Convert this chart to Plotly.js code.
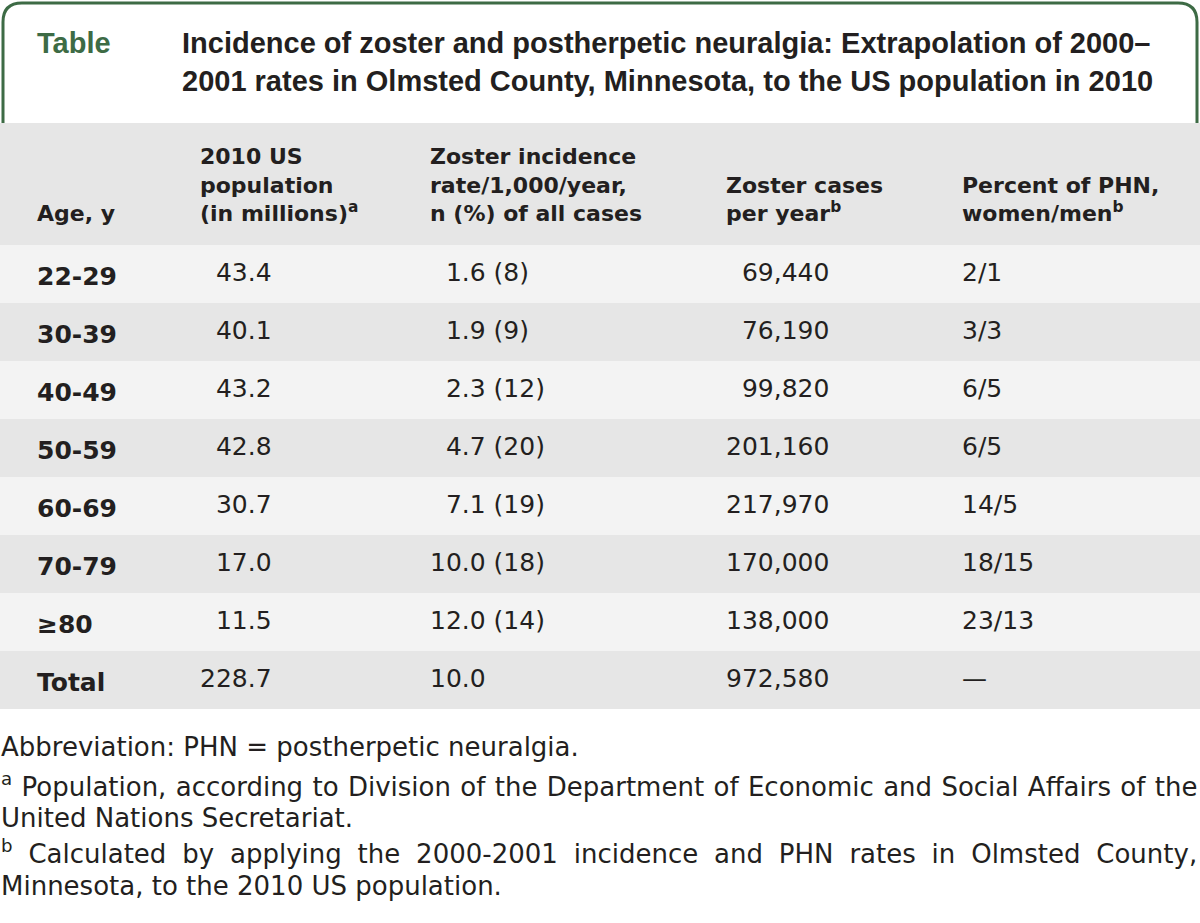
<!DOCTYPE html>
<html><head><meta charset="utf-8">
<script src="https://cdn.plot.ly/plotly-3.0.1.min.js"></script>
<style>html,body{margin:0;padding:0;background:#fff}</style>
</head><body>
<div id="chart" style="width:1200px;height:923px"></div>
<script>
// ---- data ----
const ageGroups = ['22-29','30-39','40-49','50-59','60-69','70-79','≥80'];
const population = [43.4, 40.1, 43.2, 42.8, 30.7, 17.0, 11.5];
const incidenceRate = [1.6, 1.9, 2.3, 4.7, 7.1, 10.0, 12.0];
const pctOfCases = [8, 9, 12, 20, 19, 18, 14];
const casesPerYear = [69440, 76190, 99820, 201160, 217970, 170000, 138000];
const phnWomenMen = ['2/1','3/3','6/5','6/5','14/5','18/15','23/13'];
const totalLabel = 'Total';
const totalPopulation = 228.7;
const totalRate = 10.0;
const totalCases = 972580;
const totalPhn = '—';
const columnHeaders = [
  'Age, y',
  '2010 US<br>population<br>(in millions)<sup>a</sup>',
  'Zoster incidence<br>rate/1,000/year,<br>n (%) of all cases',
  'Zoster cases<br>per year<sup>b</sup>',
  'Percent of PHN,<br>women/men<sup>b</sup>'
];
const tableLabel = 'Table';
const titleText = 'Incidence of zoster and postherpetic neuralgia: Extrapolation of 2000–<br>2001 rates in Olmsted County, Minnesota, to the US population in 2010';
const footnotes = [
  'Abbreviation: PHN = postherpetic neuralgia.',
  '<sup>a</sup> Population, according to Division of the Department of Economic and Social Affairs of the',
  'United Nations Secretariat.',
  '<sup>b</sup> Calculated by applying the 2000-2001 incidence and PHN rates in Olmsted County,',
  'Minnesota, to the 2010 US population.'
];

// ---- styles / layout ----
const W = 1200, H = 923;
const FS = '\u2007';
const FONT = '"DejaVu Sans", Verdana, sans-serif';
const TFONT = '"Liberation Sans", Arial, sans-serif';
const TXT = '#231f20';
const GREEN = '#3d6b45';
const LIGHT = '#f3f3f3', DARK = '#e6e6e6';
const CLEAR = 'rgba(0,0,0,0)';
const px = x => x / W;
const py = y => 1 - y / H;

const TABLE_TOP = 123, HEAD_H = 122, ROW_H = 58;
const HEAD_SHIFT = 13, CELL_SHIFT = 9;
const COLW = [29, 163, 230, 296, 236, 246];

const ageCol = ageGroups.map(a => '<b>' + a + '</b>').concat(['<b>' + totalLabel + '</b>']);
const popCol = population.concat([totalPopulation]).map(v => v.toFixed(1).padStart(5, FS));
const rateCol = incidenceRate.map((r, i) => r.toFixed(1).padStart(4, FS) + ' (' + pctOfCases[i] + ')')
  .concat([totalRate.toFixed(1)]);
const casesCol = casesPerYear.concat([totalCases]).map(v => v.toLocaleString('en-US').padStart(7, FS));
const phnCol = phnWomenMen.concat([totalPhn]);
const nRows = ageCol.length;
const rowColors = Array.from({length: nRows}, (_, i) => i % 2 === 0 ? LIGHT : DARK);
const blank = Array(nRows).fill('');

// background table: header + row fills
const fillTable = {
  type: 'table',
  domain: {x: [0, 1], y: [0, py(TABLE_TOP)]},
  columnwidth: COLW,
  header: {values: COLW.map(() => ''), height: HEAD_H, fill: {color: DARK}, line: {width: 0, color: DARK}},
  cells: {values: COLW.map(() => blank), height: ROW_H, fill: {color: COLW.map(() => rowColors)},
          line: {width: 0, color: LIGHT}, font: {size: 12}}
};

// text table, set slightly lower so text sits centred in the rows
const textTable = {
  type: 'table',
  domain: {x: [0, 1], y: [0, py(TABLE_TOP + HEAD_SHIFT)]},
  columnwidth: COLW,
  header: {
    values: [''].concat(columnHeaders.map(h => {
      const lines = h.split('<br>');
      return '\u00a0<br>'.repeat(3 - lines.length) + lines.map(l => '<b>' + l + '</b>').join('<br>');
    })),
    align: 'left',
    height: HEAD_H - HEAD_SHIFT + CELL_SHIFT,
    fill: {color: CLEAR},
    line: {width: 0, color: CLEAR},
    font: {family: FONT, size: 22, color: TXT}
  },
  cells: {
    values: [blank, ageCol, popCol, rateCol, casesCol, phnCol],
    align: 'left',
    height: ROW_H,
    fill: {color: CLEAR},
    line: {width: 0, color: CLEAR},
    font: {family: FONT, size: 25, color: TXT}
  }
};

const borderPath = ['M', px(3), py(TABLE_TOP), 'L', px(3), py(22), 'Q', px(3), py(3), px(22), py(3),
  'L', px(1178), py(3), 'Q', px(1197), py(3), px(1197), py(22), 'L', px(1197), py(TABLE_TOP)].join(' ');

const annotations = [
  {text: '<b>' + tableLabel + '</b>', x: px(36), y: py(26), xanchor: 'left', yanchor: 'top',
   font: {family: TFONT, size: 29, color: GREEN}},
  {text: '<b>' + titleText + '</b>', x: px(181), y: py(26), xanchor: 'left', yanchor: 'top', align: 'left',
   font: {family: TFONT, size: 29, color: TXT}}
];
const footY = [747, 785, 818, 852, 886];
const footSpacing = [0, 1.1, 0, 7.6, 0];
footnotes.forEach((t, i) => annotations.push({
  text: footSpacing[i] ? '<span style="word-spacing:' + footSpacing[i] + 'px">' + t + '</span>' : t,
  x: px(0), y: py(footY[i]), xanchor: 'left', yanchor: 'middle', align: 'left',
  font: {family: FONT, size: 26, color: TXT}
}));
annotations.forEach(a => { a.xref = 'paper'; a.yref = 'paper'; a.showarrow = false; a.borderpad = 0; });

const layout = {
  width: W, height: H,
  margin: {l: 0, r: 0, t: 0, b: 0},
  paper_bgcolor: '#fff',
  showlegend: false,
  shapes: [{type: 'path', xref: 'paper', yref: 'paper', path: borderPath,
            line: {color: GREEN, width: 3}}],
  annotations: annotations
};
Plotly.newPlot('chart', [fillTable, textTable], layout, {displayModeBar: false, staticPlot: true});
</script>
</body></html>
